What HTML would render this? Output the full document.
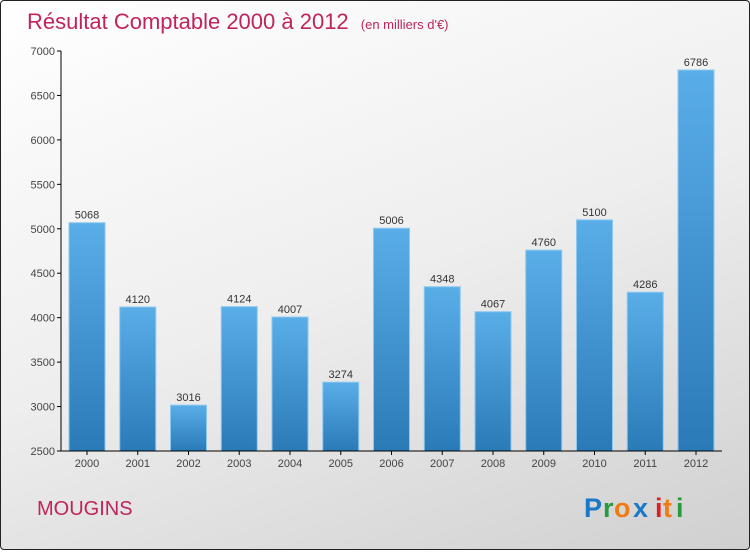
<!DOCTYPE html>
<html><head><meta charset="utf-8"><style>
body{margin:0;width:750px;height:550px;overflow:hidden}
#c{position:absolute;left:0;top:0;width:748px;height:548px;border:1px solid #222;border-radius:4px;background:linear-gradient(160deg,#ffffff 0%,#eeeeee 50%,#d0d0d0 100%)}
text{font-family:"Liberation Sans",sans-serif}
</style></head><body>
<div id="c">
<svg id="s" width="750" height="550">
<defs><linearGradient id="g" x1="0" y1="0" x2="0" y2="1"><stop offset="0" stop-color="#5aaee8"/><stop offset="1" stop-color="#2a7ab8"/></linearGradient></defs>
<text x="26" y="28" font-size="22" fill="#c0245c">Résultat Comptable 2000 à 2012 <tspan font-size="13" dx="6">(en milliers d'€)</tspan></text>
<text x="36" y="514" font-size="20" fill="#c0245c">MOUGINS</text>
<g font-size="27" font-weight="bold" font-family="'Liberation Sans',sans-serif">
<text x="583" y="516" fill="#1a78c8">P</text><text x="602" y="516" fill="#2a9a40">r</text><text x="613" y="516" fill="#f07b10">o</text><text x="632" y="516" fill="#1a78c8">x</text><text x="654" y="516" fill="#e02020">i</text><text x="662" y="516" fill="#f07b10">t</text><text x="675" y="516" fill="#2a9a40">i</text>
</g>
<g id="plot"></g>
</svg></div>
<script>
const years=["2000","2001","2002","2003","2004","2005","2006","2007","2008","2009","2010","2011","2012"];
const values=[5068,4120,3016,4124,4007,3274,5006,4348,4067,4760,5100,4286,6786];
const yTicks=[2500,3000,3500,4000,4500,5000,5500,6000,6500,7000];
const NS="http://www.w3.org/2000/svg",p=document.getElementById('plot');
const y=v=>450-(v-2500)*400/4500, x=i=>86+i*50.75;
function el(t,a){const e=document.createElementNS(NS,t);for(const k in a)e.setAttribute(k,a[k]);p.appendChild(e);return e;}
yTicks.forEach(v=>{
 const l=el('line',{x1:56,x2:60,y1:y(v),y2:y(v),stroke:'#000'});
 
 
 const t=el('text',{x:54,y:y(v)+4,'text-anchor':'end','font-size':11,fill:'#444'});t.textContent=v;
 
 
});
values.forEach((v,i)=>{
 const r=el('rect',{x:x(i)-18,y:y(v),width:36,height:450-y(v),fill:'url(#g)',stroke:'#8cc8f0','stroke-width':1});
 
 
 const t=el('text',{x:x(i),y:y(v)-4,'text-anchor':'middle','font-size':11,fill:'#333'});t.textContent=v;
 
 
 const k=el('line',{x1:x(i),x2:x(i),y1:450,y2:454,stroke:'#000'});
 
 
 const l=el('text',{x:x(i),y:466,'text-anchor':'middle','font-size':11,fill:'#444'});l.textContent=years[i];
 
 
});
const ya=el('line',{x1:60,x2:60,y1:50,y2:450,stroke:'#000'});


const xa=el('line',{x1:60,x2:721,y1:450,y2:450,stroke:'#000'});


</script>
</body></html>
